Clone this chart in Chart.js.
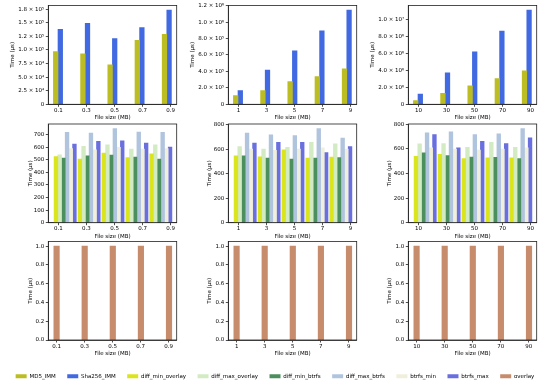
<!DOCTYPE html>
<html>
<head>
<meta charset="utf-8">
<script src="https://cdn.jsdelivr.net/npm/chart.js@4.4.1/dist/chart.umd.min.js"></script>
<style>
  body { margin: 0; background: #fff; width: 550px; height: 385px; position: relative; overflow: hidden; }
  canvas { position: absolute; }
</style>
</head>
<body>
<script>
// Kategorien (Dateigrößen) pro Spalte
const sizesSmall = ['0.1', '0.3', '0.5', '0.7', '0.9'];
const sizesMid = ['1', '3', '5', '7', '9'];
const sizesLarge = ['10', '30', '50', '70', '90'];

// Reihe 1: Hash-Zeiten
const md5Small = [97000, 93000, 72600, 117800, 128500];
const sha256Small = [137800, 149000, 121000, 141000, 173000];
const md5Mid = [105000, 166000, 276000, 337000, 431000];
const sha256Mid = [166000, 415000, 650000, 895000, 1145000];
const md5Large = [430000, 1310000, 2190000, 3060000, 3980000];
const sha256Large = [1200000, 3740000, 6220000, 8680000, 11160000];

// Reihe 2: diff / btrfs Zeiten
const diffMinOverlaySmall = [527, 506, 554, 519, 548];
const diffMaxOverlaySmall = [540, 607, 620, 586, 620];
const diffMinBtrfsSmall = [514, 532, 538, 522, 506];
const diffMaxBtrfsSmall = [719, 713, 748, 721, 719];
const btrfsMinSmall = [590, 580, 600, 585, 590];
const btrfsMaxSmall = [625, 647, 652, 634, 602];

const diffMinOverlayMid = [546, 538, 595, 527, 535];
const diffMaxOverlayMid = [622, 600, 614, 655, 644];
const diffMinBtrfsMid = [546, 527, 519, 527, 532];
const diffMaxBtrfsMid = [732, 718, 710, 767, 690];
const btrfsMinMid = [600, 590, 600, 610, 600];
const btrfsMaxMid = [650, 655, 655, 573, 622];

const diffMinOverlayLarge = [540, 557, 521, 527, 527];
const diffMaxOverlayLarge = [641, 644, 614, 655, 614];
const diffMinBtrfsLarge = [568, 546, 535, 532, 521];
const diffMaxBtrfsLarge = [732, 740, 718, 723, 765];
const btrfsMinLarge = [610, 600, 590, 600, 610];
const btrfsMaxLarge = [718, 609, 663, 644, 690];

// Reihe 3: overlay
const overlaySmall = [1, 1, 1, 1, 1];
const overlayMid = [1, 1, 1, 1, 1];
const overlayLarge = [1, 1, 1, 1, 1];

// Achsenticks
const yTicksHashSmall = [0, 25000, 50000, 75000, 100000, 125000, 150000, 175000];
const yLabelsHashSmall = ['0', '2.5 × 10⁴', '5.0 × 10⁴', '7.5 × 10⁴', '1.0 × 10⁵', '1.2 × 10⁵', '1.5 × 10⁵', '1.8 × 10⁵'];
const yTicksHashMid = [0, 200000, 400000, 600000, 800000, 1000000, 1200000];
const yLabelsHashMid = ['0', '2.0 × 10⁵', '4.0 × 10⁵', '6.0 × 10⁵', '8.0 × 10⁵', '1.0 × 10⁶', '1.2 × 10⁶'];
const yTicksHashLarge = [0, 2000000, 4000000, 6000000, 8000000, 10000000];
const yLabelsHashLarge = ['0', '2.0 × 10⁶', '4.0 × 10⁶', '6.0 × 10⁶', '8.0 × 10⁶', '1.0 × 10⁷'];
const yTicksDiffSmall = [0, 100, 200, 300, 400, 500, 600, 700];
const yLabelsDiffSmall = ['0', '100', '200', '300', '400', '500', '600', '700'];
const yTicksDiff = [0, 200, 400, 600, 800];
const yLabelsDiff = ['0', '200', '400', '600', '800'];
const yTicksOverlay = [0, 0.2, 0.4, 0.6, 0.8, 1.0];
const yLabelsOverlay = ['0.0', '0.2', '0.4', '0.6', '0.8', '1.0'];

// Farben
const colors = {
    MD5_IMM: '#bcbd22',
    Sha256_IMM: '#4169e1',
    diff_min_overlay: '#dbe51e',
    diff_max_overlay: '#d3ebc3',
    diff_min_btrfs: '#4c8f5f',
    diff_max_btrfs: '#b0c4de',
    btrfs_min: '#f0efdc',
    btrfs_max: '#6a6fe0',
    overlay: '#c68c6c'
};

// Layout (Pixel)
const FONT = { family: 'DejaVu Sans', size: 5.5 };
const LINE_H = FONT.size * 1.2;
const colPlotLeft = [48.3, 228.3, 408.3];
const plotWidth = 128.4;
const rowPlotTop = [5.5, 124, 241.5];
const rowPlotBottom = [104.3, 222.7, 340];
const yTitleCenter = [[12.5, 192.5, 372.5], [30, 209, 389], [30, 209, 389]];
// Gruppenlage (Index-Einheiten) je Reihe
const barAxisRange = [[-0.357, 4.364], [-0.707, 4.665], [-0.295, 4.274]];
const tickAxisRange = [[-0.364, 4.221], [-0.364, 4.221], [-0.3, 4.286]];
const barWidthPx = [4.6, 3.7, 5.5];

const framePlugin = {
    id: 'frame',
    afterDraw(chart) {
        const { ctx, chartArea: a } = chart;
        ctx.save();
        ctx.strokeStyle = '#222';
        ctx.lineWidth = 0.8;
        ctx.strokeRect(a.left, a.top, a.right - a.left, a.bottom - a.top);
        ctx.restore();
    }
};

function series(label, values, row) {
    return {
        label: label,
        data: values.map((v, i) => ({ x: i, y: v })),
        xAxisID: 'xb',
        backgroundColor: colors[label],
        borderWidth: 0,
        barThickness: barWidthPx[row]
    };
}

function drawPanel(row, col, cats, datasets, yTicks, yLabels) {
    const canvasLeft = Math.round(yTitleCenter[row][col] - LINE_H / 2);
    const canvasTop = Math.floor(rowPlotTop[row]) - 6;
    const plotLeft = colPlotLeft[col];
    const plotRight = plotLeft + plotWidth;
    const width = Math.ceil(plotRight) + 5 - canvasLeft;
    const height = Math.ceil(rowPlotBottom[row]) + 20 - canvasTop;
    const xAxisHeight = 17;
    const yAxisWidth = plotLeft - canvasLeft;

    const canvas = document.createElement('canvas');
    canvas.width = width;
    canvas.height = height;
    canvas.style.left = canvasLeft + 'px';
    canvas.style.top = canvasTop + 'px';
    document.body.appendChild(canvas);

    let maxVal = 0;
    datasets.forEach(ds => ds.data.forEach(p => { maxVal = Math.max(maxVal, p.y); }));
    const yMax = maxVal * 1.05;

    const axisGrid = { drawOnChartArea: false, drawTicks: true, tickLength: 2.5, color: '#222', lineWidth: 0.8, offset: false };
    const axisBorder = { display: true, color: '#222', width: 0.8 };

    new Chart(canvas, {
        type: 'bar',
        data: { datasets: datasets },
        options: {
            responsive: false,
            animation: false,
            layout: {
                padding: {
                    left: 0,
                    top: rowPlotTop[row] - canvasTop,
                    right: width - (plotRight - canvasLeft),
                    bottom: height - (rowPlotBottom[row] - canvasTop) - xAxisHeight
                }
            },
            plugins: { legend: { display: false }, tooltip: { enabled: false } },
            scales: {
                xb: {
                    type: 'linear', display: false, offset: false, bounds: 'data',
                    min: barAxisRange[row][0], max: barAxisRange[row][1]
                },
                x: {
                    type: 'linear',
                    position: 'bottom',
                    offset: false,
                    bounds: 'data',
                    min: tickAxisRange[row][0],
                    max: tickAxisRange[row][1],
                    afterBuildTicks: s => { s.ticks = cats.map((c, i) => ({ value: i })); },
                    ticks: { callback: (v, i) => cats[i], font: FONT, color: '#000', padding: 0.5, autoSkip: false, maxRotation: 0 },
                    grid: axisGrid,
                    border: axisBorder,
                    title: { display: true, text: 'File size (MB)', font: FONT, color: '#000', padding: 0 },
                    afterFit: s => { s.height = xAxisHeight; }
                },
                y: {
                    type: 'linear',
                    bounds: 'data',
                    min: 0,
                    max: yMax,
                    afterBuildTicks: s => { s.ticks = yTicks.filter(v => v <= yMax).map(v => ({ value: v })); },
                    ticks: { callback: (v, i) => yLabels[i], font: FONT, color: '#000', padding: 1.5 },
                    grid: axisGrid,
                    border: axisBorder,
                    title: { display: true, text: 'Time (µs)', font: FONT, color: '#000', padding: 0 },
                    afterFit: s => { s.width = yAxisWidth; }
                }
            }
        },
        plugins: [framePlugin]
    });
}

// Reihe 1
drawPanel(0, 0, sizesSmall, [series('MD5_IMM', md5Small, 0), series('Sha256_IMM', sha256Small, 0)], yTicksHashSmall, yLabelsHashSmall);
drawPanel(0, 1, sizesMid, [series('MD5_IMM', md5Mid, 0), series('Sha256_IMM', sha256Mid, 0)], yTicksHashMid, yLabelsHashMid);
drawPanel(0, 2, sizesLarge, [series('MD5_IMM', md5Large, 0), series('Sha256_IMM', sha256Large, 0)], yTicksHashLarge, yLabelsHashLarge);

// Reihe 2
drawPanel(1, 0, sizesSmall, [
    series('diff_min_overlay', diffMinOverlaySmall, 1), series('diff_max_overlay', diffMaxOverlaySmall, 1),
    series('diff_min_btrfs', diffMinBtrfsSmall, 1), series('diff_max_btrfs', diffMaxBtrfsSmall, 1),
    series('btrfs_min', btrfsMinSmall, 1), series('btrfs_max', btrfsMaxSmall, 1)
], yTicksDiffSmall, yLabelsDiffSmall);
drawPanel(1, 1, sizesMid, [
    series('diff_min_overlay', diffMinOverlayMid, 1), series('diff_max_overlay', diffMaxOverlayMid, 1),
    series('diff_min_btrfs', diffMinBtrfsMid, 1), series('diff_max_btrfs', diffMaxBtrfsMid, 1),
    series('btrfs_min', btrfsMinMid, 1), series('btrfs_max', btrfsMaxMid, 1)
], yTicksDiff, yLabelsDiff);
drawPanel(1, 2, sizesLarge, [
    series('diff_min_overlay', diffMinOverlayLarge, 1), series('diff_max_overlay', diffMaxOverlayLarge, 1),
    series('diff_min_btrfs', diffMinBtrfsLarge, 1), series('diff_max_btrfs', diffMaxBtrfsLarge, 1),
    series('btrfs_min', btrfsMinLarge, 1), series('btrfs_max', btrfsMaxLarge, 1)
], yTicksDiff, yLabelsDiff);

// Reihe 3
drawPanel(2, 0, sizesSmall, [series('overlay', overlaySmall, 2)], yTicksOverlay, yLabelsOverlay);
drawPanel(2, 1, sizesMid, [series('overlay', overlayMid, 2)], yTicksOverlay, yLabelsOverlay);
drawPanel(2, 2, sizesLarge, [series('overlay', overlayLarge, 2)], yTicksOverlay, yLabelsOverlay);

// Gemeinsame Legende
const legendCanvas = document.createElement('canvas');
legendCanvas.width = 550;
legendCanvas.height = 40;
legendCanvas.style.left = '0px';
legendCanvas.style.top = '342px';
document.body.appendChild(legendCanvas);
new Chart(legendCanvas, {
    type: 'bar',
    data: {
        labels: [''],
        datasets: Object.keys(colors).map(name => ({
            label: name, data: [0], backgroundColor: colors[name], borderWidth: 0
        }))
    },
    options: {
        responsive: false,
        animation: false,
        layout: { padding: 0 },
        scales: { x: { display: false }, y: { display: false } },
        plugins: {
            tooltip: { enabled: false },
            legend: {
                display: true,
                position: 'bottom',
                labels: { font: FONT, color: '#000', boxWidth: 11, boxHeight: 4, padding: 11.5 }
            }
        }
    }
});
</script>
</body>
</html>
